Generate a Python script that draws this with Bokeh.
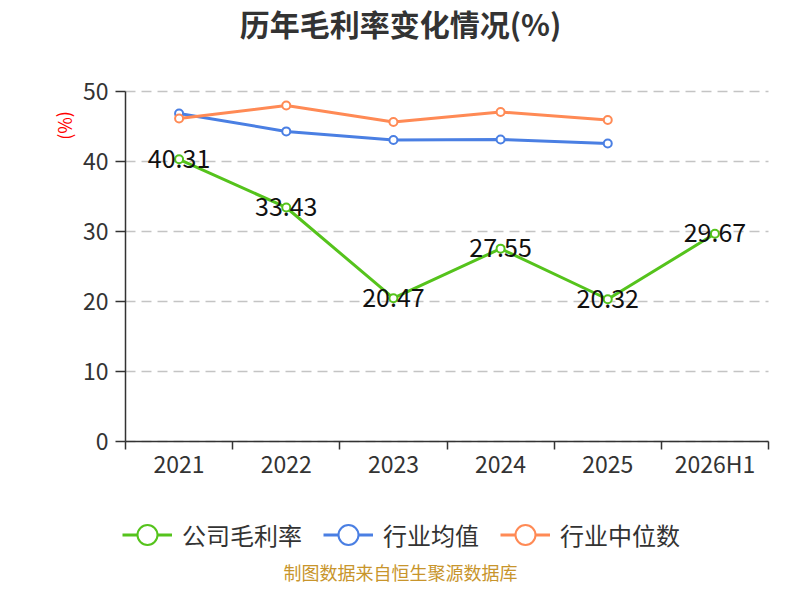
from bokeh.plotting import figure
from bokeh.models import (Range1d, FixedTicker, Legend, LegendItem, Label,
                          ColumnDataSource)
from bokeh.embed import file_html
from bokeh.resources import INLINE
from bokeh.core.properties import value

years = ["2021", "2022", "2023", "2024", "2025", "2026H1"]
company = [40.31, 33.43, 20.47, 27.55, 20.32, 29.67]
industry_avg = [46.86, 44.30, 43.07, 43.14, 42.57]
industry_median = [46.14, 48.00, 45.64, 47.07, 45.93]

FONT = "Noto Sans CJK SC"
GREEN = "#55c31c"
BLUE = "#4a7fe3"
ORANGE = "#ff8a55"

W, H = 784, 584
# plot area inside the canvas (pixels from top-left)
AX_L, AX_R, AX_T, AX_B = 125, 768, 91, 441
YMAX = 50

xpos = [i + 0.5 for i in range(len(years))]
n = len(years)
xs = (AX_R - AX_L) / n
ys = (AX_B - AX_T) / YMAX

# the frame fills the whole canvas; axes sit at fixed locations inside it
p = figure(width=W, height=H, output_backend="svg", toolbar_location=None,
           x_range=Range1d(-AX_L / xs, n + (W - AX_R) / xs),
           y_range=Range1d(-(H - AX_B) / ys, AX_B / ys),
           min_border=0)
p.outline_line_color = None

p.xaxis.fixed_location = 0
p.xaxis.bounds = (0, n)
p.xaxis.ticker = FixedTicker(ticks=xpos, minor_ticks=list(range(n + 1)))
p.xaxis.major_label_overrides = {x: y for x, y in zip(xpos, years)}
p.xaxis.major_tick_line_color = None
p.xaxis.major_tick_out = 0
p.xaxis.major_tick_in = 0
p.xaxis.minor_tick_out = 8
p.xaxis.minor_tick_in = 0
p.xaxis.minor_tick_line_color = "#333333"
p.xaxis.minor_tick_line_width = 1.5
p.xaxis.major_label_standoff = -4

p.yaxis.fixed_location = 0
p.yaxis.bounds = (0, YMAX)
p.yaxis.ticker = FixedTicker(ticks=[0, 10, 20, 30, 40, 50])
p.yaxis.major_tick_out = 10
p.yaxis.major_tick_in = 0
p.yaxis.minor_tick_line_color = None
p.yaxis.major_tick_line_color = "#333333"
p.yaxis.major_tick_line_width = 1.5
p.yaxis.major_label_standoff = 7

for ax in (p.xaxis, p.yaxis):
    ax.axis_line_color = "#333333"
    ax.axis_line_width = 1.5
    ax.major_label_text_font = FONT
    ax.major_label_text_font_size = "23px"
    ax.major_label_text_color = "#333333"

p.xgrid.grid_line_color = None
p.ygrid.bounds = (10, YMAX)
p.ygrid.cross_bounds = (0, n)
p.ygrid.grid_line_color = "#c4c4c4"
p.ygrid.grid_line_dash = "10 6"
p.ygrid.grid_line_width = 1.5

# series
comp_src = ColumnDataSource(dict(x=xpos, y=company, t=[f"{v:.2f}" for v in company]))
avg_src = ColumnDataSource(dict(x=xpos[:len(industry_avg)], y=industry_avg))
med_src = ColumnDataSource(dict(x=xpos[:len(industry_median)], y=industry_median))

rends = {}
for key, src, color in (("avg", avg_src, BLUE), ("med", med_src, ORANGE),
                        ("comp", comp_src, GREEN)):
    l = p.line("x", "y", source=src, line_color=color, line_width=3)
    s = p.scatter("x", "y", source=src, size=8, fill_color="white",
                  line_color=color, line_width=2)
    rends[key] = [l, s]

p.text("x", "y", text="t", source=comp_src, text_align="center",
       text_baseline="middle", y_offset=-1, text_font=value(FONT),
       text_font_size="25px", text_color="#111111")

legend = Legend(items=[LegendItem(label="公司毛利率", renderers=rends["comp"]),
                       LegendItem(label="行业均值", renderers=rends["avg"]),
                       LegendItem(label="行业中位数", renderers=rends["med"])],
                orientation="horizontal", location=(122, H - 562),
                glyph_width=50, glyph_height=55, label_standoff=10, spacing=21,
                padding=0, margin=0, border_line_color=None,
                background_fill_alpha=0, label_text_font=FONT,
                label_text_font_size="24px", label_text_color="#333333",
                label_height=55)
p.add_layout(legend, "center")

def label(x, y, text, size, color, **kw):
    p.add_layout(Label(x=x, y=H - y, x_units="screen", y_units="screen",
                       text=text, text_align="center", text_baseline="middle",
                       text_font=FONT, text_font_size=size, text_color=color,
                       **kw))

label(400, 22, "历年毛利率变化情况(%)", "30px", "#333333", text_font_style="bold")
label(63, 125, "(%)", "18px", "red", angle=1.5708)
label(400, 571, "制图数据来自恒生聚源数据库", "18px", "#c8952c")

open("out.html", "w").write(file_html(p, INLINE))
